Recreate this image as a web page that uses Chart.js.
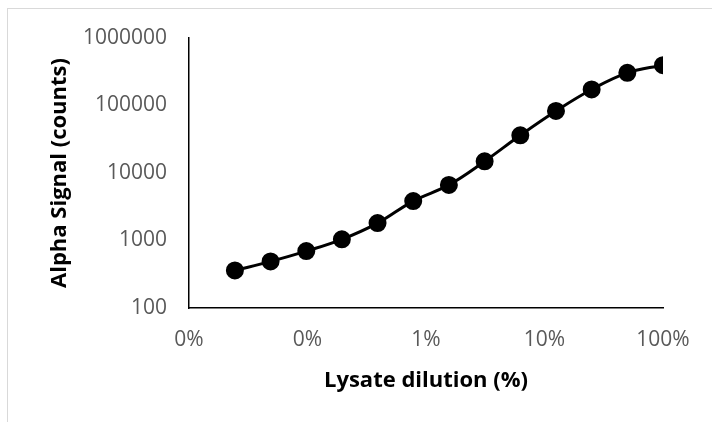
<!DOCTYPE html>
<html lang="en">

<head>
  <meta charset="UTF-8" />
  <title>Alpha Signal</title>
  <style>
    body {
      margin: 0;
      background: #fff;
    }
    #wrap {
      position: relative;
      width: 712px;
      height: 422px;
    }
    #frame {
      position: absolute;
      left: 7px;
      top: 8px;
      right: 0;
      bottom: 0;
      border-left: 1px solid #d9d9d9;
      border-top: 1px solid #d9d9d9;
      pointer-events: none;
    }
  </style>
</head>

<body>
  <div id="wrap">
    <canvas id="myChart" width="712" height="422"></canvas>
    <div id="frame"></div>
  </div>

  <script src="https://cdn.jsdelivr.net/npm/chart.js"></script>
  <script>
    // lysate dilution as a fraction (1 = 100%), two-fold series
    const dilution = [0.000244, 0.000488, 0.000977, 0.00195, 0.0039, 0.0078, 0.0156, 0.03125, 0.0625, 0.125, 0.25, 0.5, 1];
    const signal = [360, 490, 696, 1040, 1810, 3840, 6660, 14900, 36200, 83000, 172700, 304500, 396000];
    const xTicks = [0.0001, 0.001, 0.01, 0.1, 1];
    const yTicks = [100, 1000, 10000, 100000, 1000000];

    const points = dilution.map((d, i) => ({ x: d, y: signal[i] }));
    const tickFont = { family: "Open Sans", size: 21 };
    const titleFont = { family: "Open Sans", size: 22, weight: "bold" };

    const ctx = document.getElementById("myChart");
    new Chart(ctx, {
      type: "scatter",
      data: {
        datasets: [{
          data: points,
          showLine: true,
          borderColor: "#000",
          backgroundColor: "#000",
          borderWidth: 3,
          pointRadius: 7.5,
          pointHoverRadius: 7.5,
          tension: 0.4,
        }],
      },
      options: {
        responsive: false,
        animation: false,
        layout: { padding: { left: 47, right: 49, top: 38, bottom: 28 } },
        plugins: { legend: { display: false }, tooltip: { enabled: false } },
        scales: {
          x: {
            type: "logarithmic",
            min: 0.0001,
            max: 1,
            afterBuildTicks: (s) => { s.ticks = xTicks.map(v => ({ value: v })); },
            afterFit: (s) => { s.height = 86; },
            grid: { display: false, drawTicks: false },
            border: { display: true, color: "#000", width: 1.5 },
            ticks: {
              color: "#595959",
              font: tickFont,
              padding: 19,
              maxRotation: 0,
              callback: (v) => Math.round(v * 100) + "%",
            },
            title: { display: true, text: "Lysate dilution (%)", color: "#000", font: titleFont, padding: 0 },
          },
          y: {
            type: "logarithmic",
            min: 100,
            max: 1000000,
            afterBuildTicks: (s) => { s.ticks = yTicks.map(v => ({ value: v })); },
            afterFit: (s) => { s.width = 142; },
            grid: { display: false, drawTicks: false },
            border: { display: true, color: "#000", width: 1.5 },
            ticks: {
              color: "#595959",
              font: tickFont,
              padding: 22,
              callback: (v) => String(v),
            },
            title: { display: true, text: "Alpha Signal (counts)", color: "#000", font: titleFont, padding: 0 },
          },
        },
      },
    });
  </script>
</body>

</html>
